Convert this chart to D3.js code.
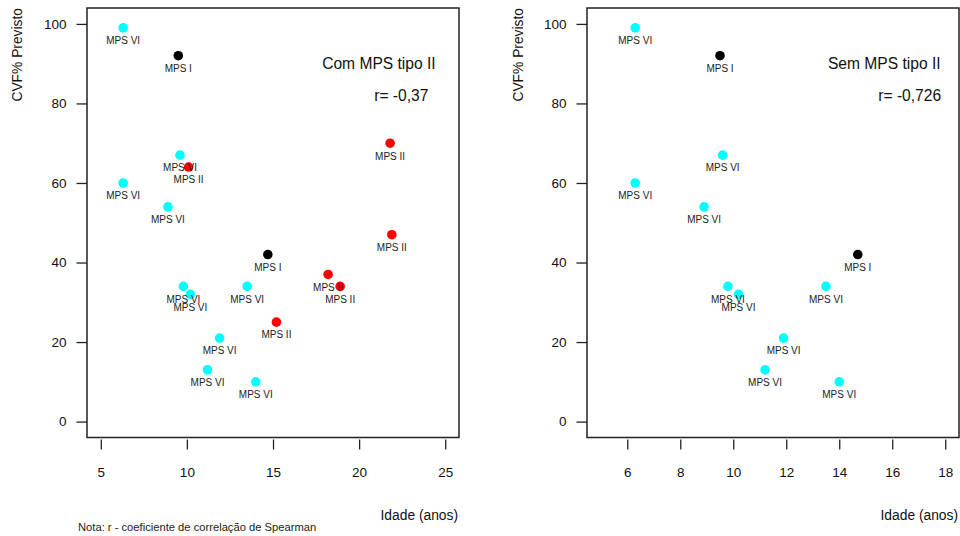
<!DOCTYPE html>
<html>
<head>
<meta charset="utf-8">
<script src="https://cdn.jsdelivr.net/npm/d3@7"></script>
<style>
  html, body { margin: 0; padding: 0; background: #fff; }
  svg { display: block; font-family: "Liberation Sans", Arial, Helvetica, sans-serif; }
</style>
</head>
<body>
<svg id="chart" width="960" height="536"></svg>
<script>
// Idade (anos) e CVF% previsto por tipo de MPS
const mpsIAge   = [9.5, 14.7];
const mpsICvf   = [92, 42];
const mpsIIAge  = [10.1, 21.8, 21.9, 18.2, 18.9, 15.2];
const mpsIICvf  = [64, 70, 47, 37, 34, 25];
const mpsVIAge  = [6.3, 9.6, 6.3, 8.9, 9.8, 10.2, 13.5, 11.9, 11.2, 14.0];
const mpsVICvf  = [99, 67, 60, 54, 34, 32, 34, 21, 13, 10];

const groupNames  = ["MPS I", "MPS II", "MPS VI"];
const groupColors = ["#000000", "#ff0000", "#00ffff"];

const yTicks       = [0, 20, 40, 60, 80, 100];
const leftXTicks   = [5, 10, 15, 20, 25];
const rightXTicks  = [6, 8, 10, 12, 14, 16, 18];

const leftTitle  = "Com MPS tipo II";
const leftR      = "r= -0,37";
const rightTitle = "Sem MPS tipo II";
const rightR     = "r= -0,726";
const xLabel = "Idade (anos)";
const yLabel = "CVF% Previsto";
const note   = "Nota: r - coeficiente de correlação de Spearman";

function pts(ages, cvfs, g) {
  return ages.map((a, i) => ({ age: a, cvf: cvfs[i], group: g }));
}
const allPoints = [
  ...pts(mpsVIAge, mpsVICvf, 2),
  ...pts(mpsIAge, mpsICvf, 0),
  ...pts(mpsIIAge, mpsIICvf, 1)
];
const noIIPoints = allPoints.filter(d => d.group !== 1);

const svg = d3.select("#chart");

function panel(opts) {
  const { left, right, top, bottom, xlim, xTicks, points, title, rText, titlePos, rPos, yTitleX, xTitleRight } = opts;
  // R-style 4% padding around the limits
  const xpad = (xlim[1] - xlim[0]) * 0.04;
  const x = d3.scaleLinear().domain([xlim[0] - xpad, xlim[1] + xpad]).range([left, right]);
  const y = d3.scaleLinear().domain([-4, 104]).range([bottom, top]);
  const g = svg.append("g");

  // y axis: ticks outside the box
  const yAxis = d3.axisLeft(y).tickValues(yTicks).tickSize(10.5).tickPadding(10);
  const ya = g.append("g").attr("transform", `translate(${left},0)`).call(yAxis);
  ya.select(".domain").remove();
  ya.selectAll("line").attr("stroke", "#222").attr("stroke-width", 1.3);
  ya.selectAll("text").attr("font-size", 13.5).attr("fill", "#111")
    .attr("font-family", "Liberation Sans, Arial, sans-serif");

  // x axis: detached slightly below the box
  const xAxis = d3.axisBottom(x).tickValues(xTicks).tickSize(10).tickPadding(18);
  const xa = g.append("g").attr("transform", `translate(0,${bottom + 2})`).call(xAxis);
  xa.select(".domain").remove();
  xa.selectAll("line").attr("stroke", "#222").attr("stroke-width", 1.3);
  xa.selectAll("text").attr("font-size", 13.5).attr("fill", "#111")
    .attr("font-family", "Liberation Sans, Arial, sans-serif");

  // plot box
  g.append("rect")
    .attr("x", left).attr("y", top)
    .attr("width", right - left).attr("height", bottom - top)
    .attr("fill", "none").attr("stroke", "#222").attr("stroke-width", 1.5);

  // points
  g.selectAll("circle.pt").data(points).join("circle")
    .attr("class", "pt")
    .attr("cx", d => x(d.age)).attr("cy", d => y(d.cvf))
    .attr("r", 4.8)
    .attr("fill", d => groupColors[d.group]);

  // labels under each point
  g.selectAll("text.lbl").data(points).join("text")
    .attr("class", "lbl")
    .attr("x", d => x(d.age)).attr("y", d => y(d.cvf) + 16.3)
    .attr("text-anchor", "middle")
    .attr("font-size", 10).attr("fill", "#222")
    .text(d => groupNames[d.group]);

  // annotations
  g.append("text").attr("x", x(titlePos[0])).attr("y", y(titlePos[1]))
    .attr("text-anchor", "middle").attr("dominant-baseline", "central")
    .attr("font-size", 15.6).attr("fill", "#111").text(title);
  g.append("text").attr("x", x(rPos[0])).attr("y", y(rPos[1]))
    .attr("text-anchor", "middle").attr("dominant-baseline", "central")
    .attr("font-size", 15.6).attr("fill", "#111").text(rText);

  // axis titles
  g.append("text")
    .attr("transform", `translate(${yTitleX},${top}) rotate(-90)`)
    .attr("text-anchor", "end").attr("dy", "0.35em")
    .attr("font-size", 13.8).attr("fill", "#111").text(yLabel);
  g.append("text")
    .attr("x", xTitleRight).attr("y", 520)
    .attr("text-anchor", "end")
    .attr("font-size", 13.8).attr("fill", "#111").text(xLabel);
}

panel({
  left: 87, right: 459, top: 8, bottom: 437.5,
  xlim: [5, 25], xTicks: leftXTicks, points: allPoints,
  title: leftTitle, rText: leftR,
  titlePos: [21.15, 90], rPos: [22.45, 82],
  yTitleX: 17.5, xTitleRight: 458
});

panel({
  left: 587, right: 959, top: 8, bottom: 437.5,
  xlim: [5, 18], xTicks: rightXTicks, points: noIIPoints,
  title: rightTitle, rText: rightR,
  titlePos: [15.7, 90], rPos: [16.66, 82],
  yTitleX: 518, xTitleRight: 958
});

svg.append("text")
  .attr("x", 78).attr("y", 531)
  .attr("font-size", 11.2).attr("fill", "#222")
  .text(note);
</script>
</body>
</html>
